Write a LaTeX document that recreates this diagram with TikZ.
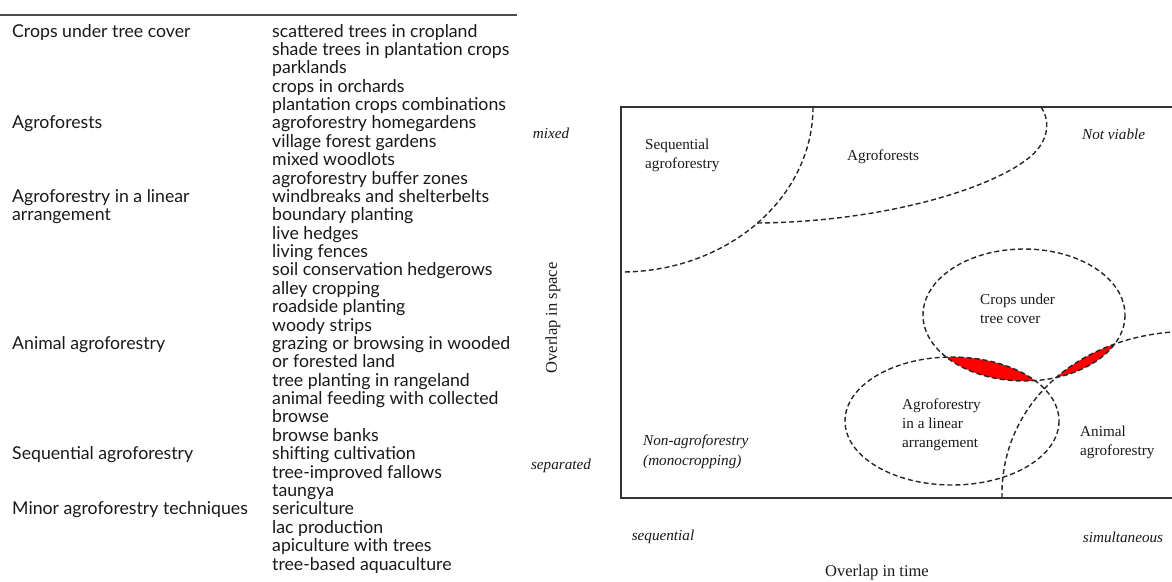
\documentclass[tikz,border=0pt]{standalone}
\usepackage{fontspec}
\setmainfont{Liberation Serif}
\newfontfamily\tabfont{Lato}

\tikzset{
  item/.style={anchor=base west, inner sep=0pt, text=black!90,
    font=\tabfont\fontsize{17.7}{18.4}\selectfont},
  lbl/.style={anchor=west, align=left, inner sep=0pt, text=black!90,
    font=\fontsize{15.2}{19}\selectfont},
  axlbl/.style={inner sep=0pt, text=black!90, font=\fontsize{15.2}{19}\selectfont\itshape},
  axtitle/.style={inner sep=0pt, text=black!90, font=\fontsize{16.5}{19}\selectfont},
  zone/.style={dash pattern=on 5pt off 3pt, line width=1.4pt, black!85},
  frame/.style={line width=1.6pt, black!80},
}

\begin{document}
\begin{tikzpicture}[x=1pt,y=-1pt]
	\useasboundingbox (0,0) rectangle (1172,581);

	% table
	\draw[line width=1.6pt, black!70] (0,15) -- (517,15);
	\node[item] (hcrops) at (12,37) {Crops under tree cover};
	\node[item] (hforests) at (12,{37+5*18.38}) {Agroforests};
	\node[item] (hlinearA) at (12,{37+9*18.38}) {Agroforestry in a linear};
	\node[item] (hlinearB) at (12,{37+10*18.38}) {arrangement};
	\node[item] (hanimal) at (12,{37+17*18.38}) {Animal agroforestry};
	\node[item] (hseq) at (12,{37+23*18.38}) {Sequential agroforestry};
	\node[item] (hminor) at (12,{37+26*18.38}) {Minor agroforestry techniques};
	\foreach \t [count=\i] in {scattered trees in cropland, shade trees in plantation crops,
		parklands, crops in orchards, plantation crops combinations, agroforestry homegardens,
		village forest gardens, mixed woodlots, agroforestry buffer zones,
		windbreaks and shelterbelts, boundary planting, live hedges, living fences,
		soil conservation hedgerows, alley cropping, roadside planting, woody strips,
		grazing or browsing in wooded, or forested land, tree planting in rangeland,
		animal feeding with collected, browse, browse banks, shifting cultivation,
		tree-improved fallows, taungya, sericulture, lac production,
		apiculture with trees, tree-based aquaculture}
		\node[item] (it\i) at (272,{37+(\i-1)*18.38}) {\t};

	% diagram
	\draw[frame] (1172,107) -- (621,107) -- (621,498) -- (1172,498);
	\begin{scope}
		\clip (1024,315) ellipse [x radius=101, y radius=66];
		\fill[red] (952,421) ellipse [x radius=107, y radius=64];
		\fill[red] (1002,498) .. controls (1000,410) and (1070,340) .. (1172,332) -- (1172,498) -- cycle;
	\end{scope}
	\draw[zone] (813,107) arc[start angle=0, end angle=90, x radius=192, y radius=165];
	\draw[zone] (757,223) .. controls (880,222) and (990,190) .. (1030,157)
		.. controls (1050,140) and (1050,120) .. (1041,107);
	\draw[zone] (1024,315) ellipse [x radius=101, y radius=66];
	\draw[zone] (952,421) ellipse [x radius=107, y radius=64];
	\draw[zone] (1002,498) .. controls (1000,410) and (1070,340) .. (1172,332);

	\node[lbl] (seq) at (645,155) {Sequential\\agroforestry};
	\node[lbl] (forests) at (847,157) {Agroforests};
	\node[lbl, font=\fontsize{15.2}{19}\selectfont\itshape] (notviable) at (1082,134) {Not viable};
	\node[lbl] (crops) at (980,309) {Crops under\\tree cover};
	\node[lbl] (linear) at (902,425) {Agroforestry\\in a linear\\arrangement};
	\node[lbl] (animal) at (1080,442) {Animal\\agroforestry};
	\node[lbl, font=\fontsize{15.2}{20}\selectfont\itshape] (nonaf) at (643,452) {Non-agroforestry\\(monocropping)};

	\node[axlbl] (mixed) at (551,133) {mixed};
	\node[axlbl] (separated) at (561,466) {separated};
	\node[axlbl] (sequential) at (663,537) {sequential};
	\node[axlbl] (simult) at (1123,537) {simultaneous};
	\node[axtitle] (tspace) at (553,318) [rotate=90] {Overlap in space};
	\node[axtitle] (ttime) at (877,573) {Overlap in time};
\end{tikzpicture}
\end{document}
